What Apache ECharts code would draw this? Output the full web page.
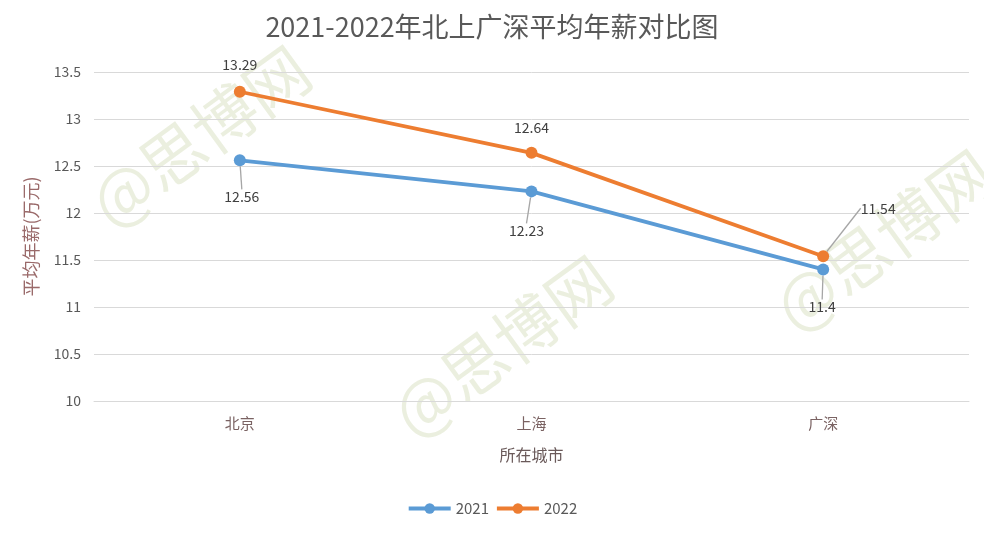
<!DOCTYPE html>
<html>
<head>
<meta charset="utf-8">
<script src="https://cdn.jsdelivr.net/npm/echarts@6/dist/echarts.min.js"></script>
<style>
html,body{margin:0;padding:0;background:#fff;}
#chart{width:984px;height:536px;}
</style>
</head>
<body>
<div id="chart"></div>
<script>
const cities = ['北京', '上海', '广深'];
const salary2021 = [12.56, 12.23, 11.4];
const salary2022 = [13.29, 12.64, 11.54];
const seriesNames = ['2021', '2022'];
const titleText = '2021-2022年北上广深平均年薪对比图';
const yAxisName = '平均年薪(万元)';
const xAxisName = '所在城市';
const watermark = '@思博网';

// label offsets (style only)
const off2021 = [[2, 36], [-5, 39], [-1, 37]];
const off2022 = [[0, -27], [0, -25], [55, -48]];
const line2021 = [true, true, true];
const line2022 = [false, false, true];

const font = '"Noto Sans CJK SC", "Noto Sans", sans-serif';
const chart = echarts.init(document.getElementById('chart'));

function mkData(vals, lines) {
  return vals.map((v, i) => ({ value: v, labelLine: { show: lines[i] } }));
}

const wmStyle = { text: watermark, font: '64px ' + font, fill: 'rgba(205,215,175,0.40)', textAlign: 'center', textVerticalAlign: 'middle' };

chart.setOption({
  backgroundColor: '#ffffff',
  textStyle: { fontFamily: font },
  title: {
    text: titleText,
    left: 'center',
    top: 8,
    textStyle: { fontSize: 27, fontWeight: 'normal', color: '#595959', fontFamily: font }
  },
  graphic: [
    { type: 'text', x: 200, y: 136, rotation: 0.63, style: wmStyle, z: -10, silent: true },
    { type: 'text', x: 502, y: 346, rotation: 0.63, style: wmStyle, z: -10, silent: true },
    { type: 'text', x: 884, y: 240, rotation: 0.63, style: wmStyle, z: -10, silent: true }
  ],
  legend: {
    bottom: 15,
    left: 'center',
    itemWidth: 42,
    itemHeight: 13,
    itemGap: 6,
    lineStyle: { width: 3.8 },
    textStyle: { fontSize: 15, color: '#595959' },
    data: seriesNames
  },
  grid: { left: 94, right: 15, top: 72, bottom: 135 },
  xAxis: {
    type: 'category',
    data: cities,
    boundaryGap: true,
    axisLine: { show: true, lineStyle: { color: '#d9d9d9', width: 1 } },
    axisTick: { show: false },
    axisLabel: { fontSize: 15, color: '#7a6262', margin: 15 },
    name: xAxisName,
    nameLocation: 'middle',
    nameGap: 46,
    nameTextStyle: { fontSize: 16, color: '#6a5a5a' }
  },
  yAxis: {
    type: 'value',
    min: 10,
    max: 13.5,
    interval: 0.5,
    axisLine: { show: false },
    axisTick: { show: false },
    axisLabel: { fontSize: 14, color: '#595959', margin: 13 },
    splitLine: { lineStyle: { color: '#d9d9d9', width: 1 } },
    name: yAxisName,
    nameLocation: 'middle',
    nameGap: 54,
    nameRotate: 90,
    nameTextStyle: { fontSize: 18, color: '#9a6a6a' }
  },
  series: [
    {
      name: seriesNames[0],
      type: 'line',
      data: mkData(salary2021, line2021),
      color: '#5B9BD5',
      lineStyle: { width: 3.8, color: '#5B9BD5' },
      symbol: 'circle',
      symbolSize: 12,
      itemStyle: { color: '#5B9BD5' },
      label: { show: true, position: 'inside', fontSize: 14, color: '#404040', fontFamily: font },
      labelLine: { show: true, lineStyle: { color: '#a6a6a6', width: 1.3 } },
      labelLayout: p => ({ dx: off2021[p.dataIndex][0], dy: off2021[p.dataIndex][1] }),
      z: 2
    },
    {
      name: seriesNames[1],
      type: 'line',
      data: mkData(salary2022, line2022),
      color: '#ED7D31',
      lineStyle: { width: 3.8, color: '#ED7D31' },
      symbol: 'circle',
      symbolSize: 12,
      itemStyle: { color: '#ED7D31' },
      label: { show: true, position: 'inside', fontSize: 14, color: '#404040', fontFamily: font },
      labelLine: { show: true, lineStyle: { color: '#a6a6a6', width: 1.3 } },
      labelLayout: p => ({ dx: off2022[p.dataIndex][0], dy: off2022[p.dataIndex][1] }),
      z: 3
    }
  ]
});
</script>
</body>
</html>
